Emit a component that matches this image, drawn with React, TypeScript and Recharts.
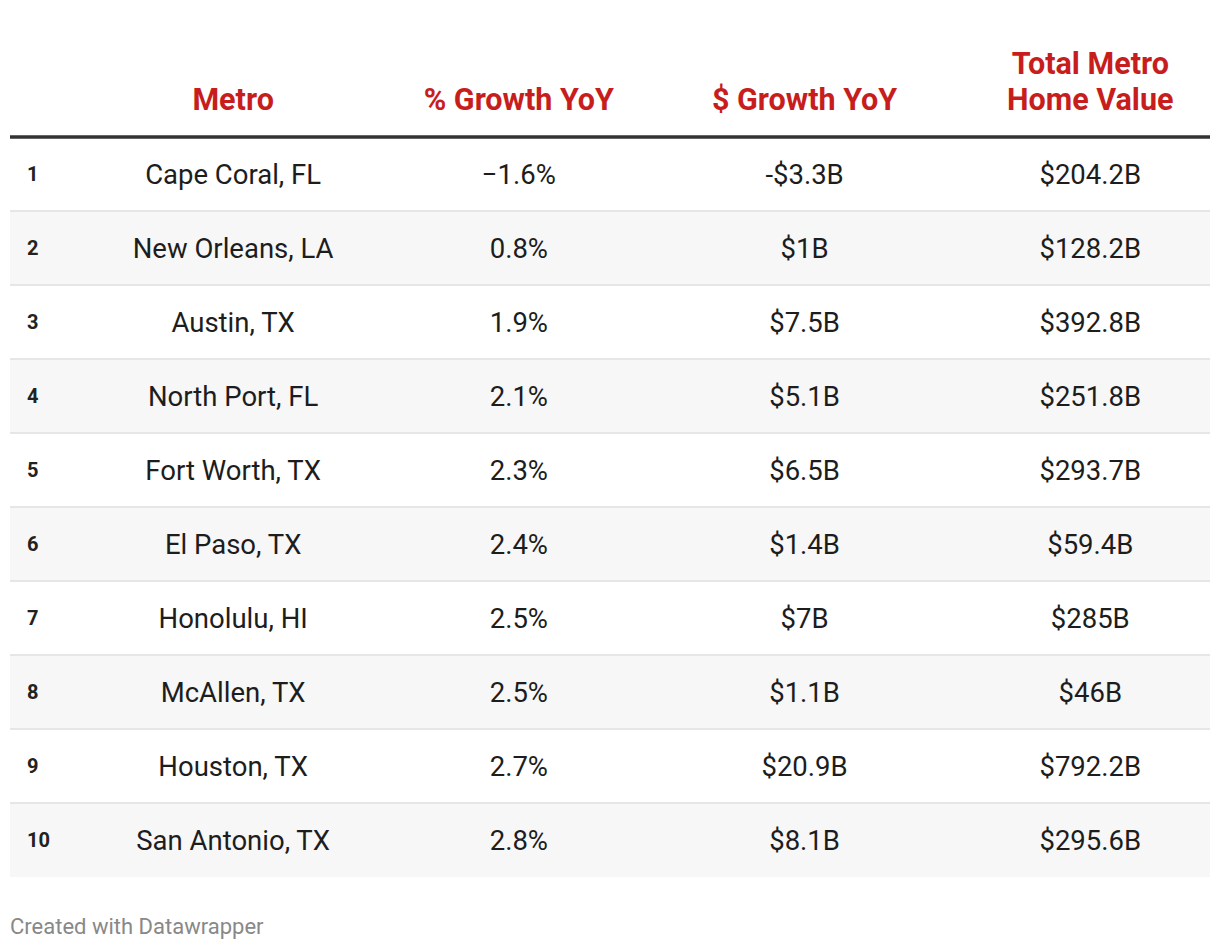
import React from 'react';
import { ScatterChart, Scatter, XAxis, YAxis, ReferenceArea, ReferenceLine } from 'recharts';

const ranks = ['1', '2', '3', '4', '5', '6', '7', '8', '9', '10'];
const metros = [
  'Cape Coral, FL', 'New Orleans, LA', 'Austin, TX', 'North Port, FL', 'Fort Worth, TX',
  'El Paso, TX', 'Honolulu, HI', 'McAllen, TX', 'Houston, TX', 'San Antonio, TX',
];
const pctGrowth = ['\u22121.6%', '0.8%', '1.9%', '2.1%', '2.3%', '2.4%', '2.5%', '2.5%', '2.7%', '2.8%'];
const dollarGrowth = ['-$3.3B', '$1B', '$7.5B', '$5.1B', '$6.5B', '$1.4B', '$7B', '$1.1B', '$20.9B', '$8.1B'];
const totalValue = ['$204.2B', '$128.2B', '$392.8B', '$251.8B', '$293.7B', '$59.4B', '$285B', '$46B', '$792.2B', '$295.6B'];
const headers = [['Metro'], ['% Growth YoY'], ['$ Growth YoY'], ['Total Metro', 'Home Value']];

const RED = '#c71e1d';
const FONT = 'Roboto, "Noto Sans", sans-serif';

const columns = [metros, pctGrowth, dollarGrowth, totalValue];
const rankCol = 0.219;

const rankCells = ranks.map((label, i) => ({ col: rankCol, row: i + 1, label }));
const bodyCells = columns.flatMap((values, c) => values.map((label, i) => ({ col: c + 1, row: i + 1, label })));
const headerCells = headers.map((lines, c) => ({ col: c + 1, row: 0, lines }));
const rows = ranks.map((_, i) => i + 1);

const BodyText = (props: any) => (
  <text x={props.cx} y={props.cy} dy="0.35em" textAnchor="middle" fontFamily={FONT} fontSize={27.5} fill="#1d1d1d">
    {props.payload.label}
  </text>
);

const RankText = (props: any) => (
  <text x={props.cx + 17} y={props.cy} dy="0.35em" textAnchor="start" fontFamily={FONT} fontSize={20} fontWeight={700} fill="#222">
    {props.payload.label}
  </text>
);

const HeaderText = (props: any) => {
  const lines: string[] = props.payload.lines;
  return (
    <text x={props.cx} y={props.cy} textAnchor="middle" fontFamily={FONT} fontSize={30.5} fontWeight={700} fill={RED}>
      {lines.map((l, i) => (
        <tspan key={i} x={props.cx} y={props.cy - (lines.length - 1 - i) * 36 - 1} dy="0.35em">{l}</tspan>
      ))}
    </text>
  );
};

export default function App() {
  return (
    <div style={{ position: 'absolute', left: 0, top: 0, width: 1220, height: 952, background: '#fff' }}>
      <ScatterChart width={1220} height={952} margin={{ top: 26, right: 10, bottom: 75, left: 10 }}>
        <XAxis type="number" dataKey="col" domain={[rankCol, rankCol + 4.2]} hide />
        <YAxis type="number" dataKey="row" domain={[-1, 10.5]} reversed hide width={0} />
        {rows.filter((r) => r % 2 === 0).map((r) => (
          <ReferenceArea key={`bg${r}`} y1={r - 0.5} y2={r + 0.5} fill="#f7f7f7" fillOpacity={1} stroke="none" />
        ))}
        {rows.slice(0, -1).map((r) => (
          <ReferenceLine key={`sep${r}`} y={r + 0.5} stroke="#e6e6e6" strokeWidth={2} />
        ))}
        <ReferenceLine y={0.5} stroke="#333" strokeWidth={3.5} />
        <Scatter data={headerCells} shape={HeaderText} isAnimationActive={false} />
        <Scatter data={rankCells} shape={RankText} isAnimationActive={false} />
        <Scatter data={bodyCells} shape={BodyText} isAnimationActive={false} />
      </ScatterChart>
      <div style={{ position: 'absolute', left: 10, top: 914, fontFamily: FONT, fontSize: 22, color: '#888' }}>
        Created with Datawrapper
      </div>
    </div>
  );
}
